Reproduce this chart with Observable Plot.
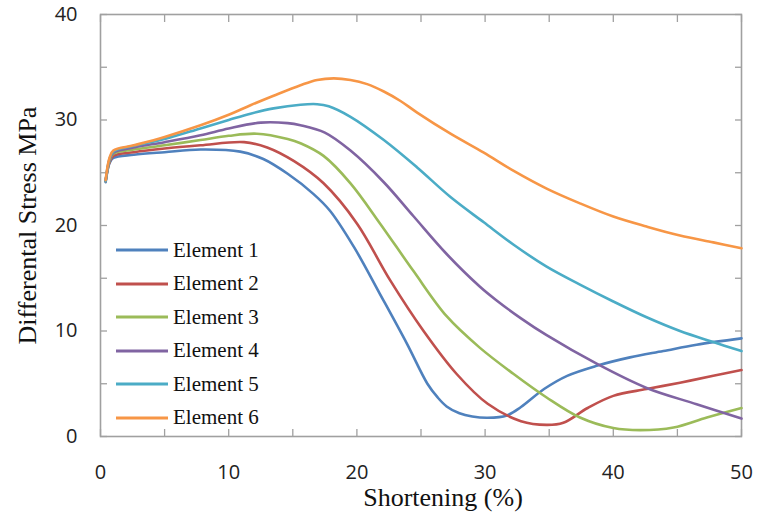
<!DOCTYPE html>
<html>
<head>
<meta charset="utf-8">
<script src="https://cdn.jsdelivr.net/npm/d3@7"></script>
<script src="https://cdn.jsdelivr.net/npm/@observablehq/plot@0.6"></script>
<style>
  body { margin: 0; background: #fff; }
  #wrap { position: relative; width: 759px; height: 512px; }
  .legend { position: absolute; left: 116px; top: 250px; font-family: "Liberation Serif", "Times New Roman", serif; font-size: 21px; color: #111; }
  .legend .row { position: absolute; left: 0; display: flex; align-items: center; white-space: nowrap; height: 24px; margin-top: -12px; }
  .legend svg { width: 52px; height: 6px; margin-right: 5px; }
</style>
</head>
<body>
<div id="wrap"></div>
<script>
// ---- data ----
const seriesNames = ["Element 1", "Element 2", "Element 3", "Element 4", "Element 5", "Element 6"];
const seriesColors = ["#4F81BD", "#C0504D", "#9BBB59", "#8064A2", "#4BACC6", "#F79646"];
const xTickLabels = [0, 10, 20, 30, 40, 50];
const yTickLabels = [0, 10, 20, 30, 40];
const xMinorTicks = [0, 5, 10, 15, 20, 25, 30, 35, 40, 45, 50];
const yMinorTicks = [0, 5, 10, 15, 20, 25, 30, 35, 40];

const element1 = [[0.4,24.1],[0.7,25.9],[1,26.4],[2.6,26.7],[5,26.95],[7.8,27.2],[10.9,27.0],[12.7,26.3],[14.6,24.9],[16.6,23.0],[17.9,21.4],[19.8,17.9],[21.8,13.5],[23.9,8.8],[25.5,5.0],[26.3,3.7],[27.0,2.85],[28.0,2.2],[29.0,1.9],[30.2,1.78],[31.7,2.0],[32.8,2.8],[34.6,4.5],[36.4,5.75],[38.7,6.7],[41.3,7.5],[43.9,8.1],[46.5,8.7],[50,9.3]];
const element2 = [[0.4,24.2],[0.7,26.0],[1,26.6],[2.6,26.95],[5,27.3],[7.8,27.6],[11.2,27.9],[13,27.4],[15.1,26.1],[17.4,24.0],[20.0,20.2],[22.6,14.8],[25.2,10.0],[27.8,5.9],[30.2,3.1],[32.8,1.45],[34.8,1.1],[36.1,1.3],[38.0,2.7],[40.0,3.85],[42.6,4.5],[45.2,5.1],[47.8,5.75],[50,6.3]];
const element3 = [[0.4,24.2],[0.7,26.1],[1,26.8],[2.6,27.2],[5,27.6],[7.8,28.1],[10,28.5],[12.2,28.7],[14.6,28.2],[15.6,27.8],[17.4,26.6],[19.5,24.0],[21.8,20.2],[24.4,15.7],[27.0,11.4],[29.6,8.4],[32.2,5.95],[34.8,3.7],[37.4,1.8],[40.0,0.8],[42.1,0.6],[44.7,0.85],[47.3,1.8],[50,2.7]];
const element4 = [[0.4,24.2],[0.7,26.2],[1,26.9],[2.6,27.4],[5,27.9],[7.8,28.55],[10,29.2],[12.5,29.75],[14.6,29.7],[15.6,29.5],[17.5,28.8],[19.5,27.1],[22.1,24.1],[24.4,20.9],[27.0,17.3],[29.6,14.2],[30.9,12.9],[32.8,11.2],[34.8,9.6],[38.7,6.9],[42.6,4.6],[46.5,3.06],[50,1.7]];
const element5 = [[0.4,24.2],[0.7,26.3],[1,27.0],[2.6,27.55],[5,28.2],[7.8,29.2],[10,30.0],[11.7,30.6],[13.5,31.1],[15.6,31.45],[16.9,31.5],[17.8,31.3],[19.5,30.3],[22.1,28.1],[24.7,25.5],[27.3,22.7],[29.9,20.3],[32.2,18.2],[34.8,16.1],[37.4,14.4],[40.0,12.8],[42.6,11.3],[45.2,10.0],[47.8,8.95],[50,8.1]];
const element6 = [[0.4,24.3],[0.7,26.4],[1,27.1],[2.6,27.6],[5,28.4],[7.8,29.5],[10,30.5],[11.7,31.4],[13.5,32.3],[15.6,33.3],[16.9,33.8],[18.2,33.95],[19.5,33.8],[20.8,33.4],[22.1,32.7],[23.4,31.8],[24.7,30.7],[27.3,28.7],[29.9,26.9],[32.2,25.2],[34.8,23.5],[37.4,22.1],[40.0,20.85],[42.6,19.9],[45.2,19.05],[47.8,18.4],[50,17.85]];

const allSeries = [element1, element2, element3, element4, element5, element6];
const rows = [];
allSeries.forEach((s, i) => s.forEach(([x, y]) => rows.push({name: seriesNames[i], x, y})));

const axisColor = "#a0a0a0";
const serif = "'Liberation Serif', 'Times New Roman', serif";

const chart = Plot.plot({
  width: 759,
  height: 512,
  marginLeft: 100,
  marginRight: 18,
  marginTop: 14,
  marginBottom: 76,
  x: {domain: [0, 50], label: null},
  y: {domain: [0, 40], label: null},
  color: {domain: seriesNames, range: seriesColors},
  style: {fontFamily: "'Open Sans', sans-serif", background: "white", overflow: "visible"},
  marks: [
    Plot.axisX(xMinorTicks, {anchor: "bottom", tickSize: 7, dy: -7, fill: "none", stroke: axisColor, strokeWidth: 1.3, label: null}),
    Plot.axisX(xMinorTicks, {anchor: "top", tickSize: 7, dy: 7, fill: "none", stroke: axisColor, strokeWidth: 1.3, label: null}),
    Plot.axisY(yMinorTicks, {anchor: "left", tickSize: 7, dx: 7, fill: "none", stroke: axisColor, strokeWidth: 1.3, label: null}),
    Plot.axisY(yMinorTicks, {anchor: "right", tickSize: 7, dx: -7, fill: "none", stroke: axisColor, strokeWidth: 1.3, label: null}),
    Plot.axisX(xTickLabels, {anchor: "bottom", tickSize: 0, tickPadding: 28, fontSize: 20, fill: "#222", label: null}),
    Plot.axisY(yTickLabels, {anchor: "left", tickSize: 0, tickPadding: 23, fontSize: 20, fill: "#222", label: null}),
    Plot.frame({stroke: axisColor, strokeWidth: 1.6}),
    Plot.line(rows, {x: "x", y: "y", z: "name", stroke: "name", strokeWidth: 2.6, curve: "catmull-rom"}),
    Plot.text(["Shortening (%)"], {frameAnchor: "bottom", textAnchor: "middle", lineAnchor: "middle", dx: 22, dy: 61, fontFamily: serif, fontSize: 26, fill: "#111"}),
    Plot.text(["Differental Stress MPa"], {frameAnchor: "left", textAnchor: "middle", lineAnchor: "middle", rotate: -90, dx: -73, fontFamily: serif, fontSize: 26, fill: "#111"})
  ]
});

const wrap = document.getElementById("wrap");
wrap.appendChild(chart);

const legend = document.createElement("div");
legend.className = "legend";
seriesNames.forEach((name, i) => {
  const row = document.createElement("div");
  row.className = "row";
  row.style.top = (i * 33.5) + "px";
  row.innerHTML = `<svg viewBox="0 0 52 6"><line x1="0" y1="3" x2="52" y2="3" stroke="${seriesColors[i]}" stroke-width="3"/></svg><span>${name}</span>`;
  legend.appendChild(row);
});
wrap.appendChild(legend);
</script>
</body>
</html>
